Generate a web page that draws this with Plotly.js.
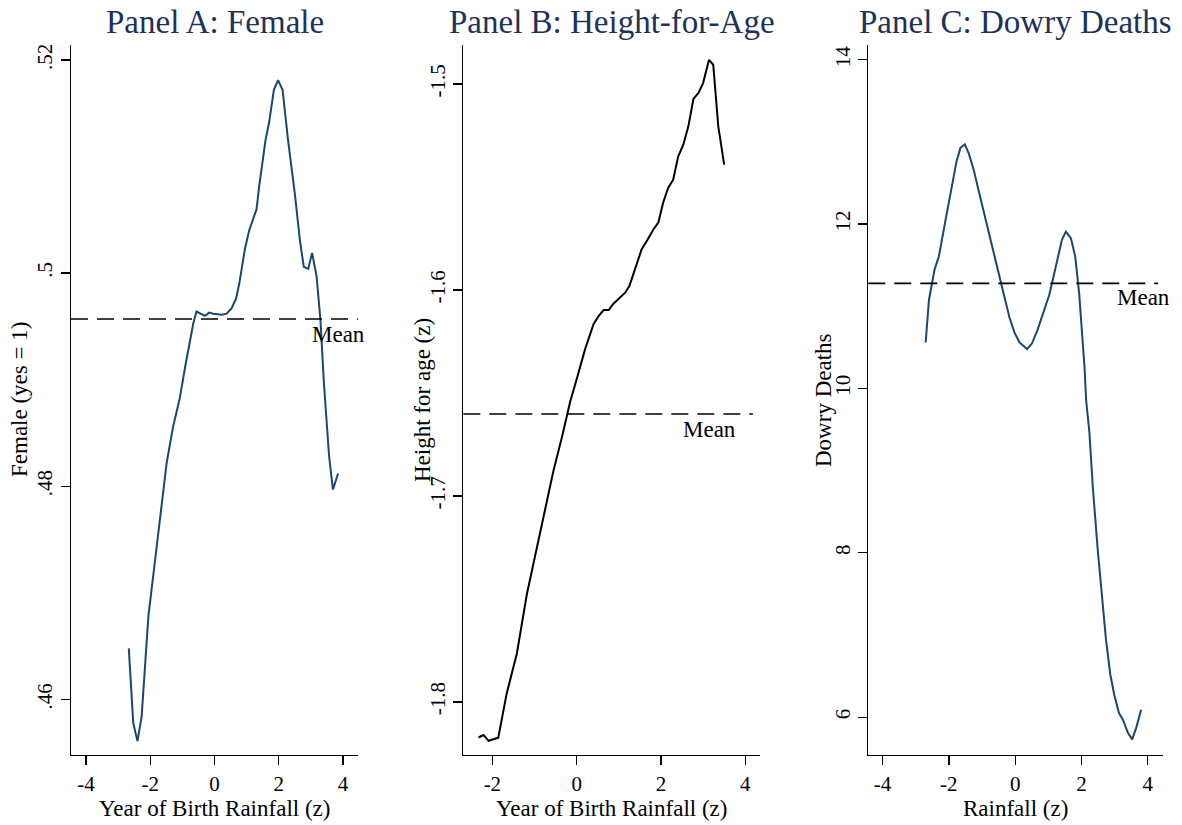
<!DOCTYPE html>
<html>
<head>
<meta charset="utf-8">
<script src="https://cdn.plot.ly/plotly-3.0.1.min.js"></script>
<style>html,body{margin:0;padding:0;background:#fff;}#chart{width:1182px;height:825px;}</style>
</head>
<body>
<div id="chart"></div>
<script>
// Panel A: Female
const femaleX = [-2.67,-2.53,-2.40,-2.27,-2.06,-1.88,-1.70,-1.49,-1.29,-1.08,-0.92,-0.79,-0.66,-0.56,-0.30,-0.16,-0.04,0.22,0.38,0.53,0.67,0.77,0.95,1.08,1.31,1.39,1.59,1.70,1.85,1.98,2.12,2.29,2.50,2.66,2.78,2.92,3.04,3.18,3.30,3.41,3.57,3.69,3.85];
const femaleY = [0.4648,0.4578,0.4561,0.4584,0.4678,0.4725,0.4768,0.4822,0.4856,0.4883,0.4911,0.4932,0.4953,0.4964,0.4960,0.4963,0.4962,0.4961,0.4962,0.4967,0.4976,0.4990,0.5023,0.5040,0.5060,0.5081,0.5125,0.5141,0.5172,0.5181,0.5172,0.5125,0.5075,0.5031,0.5006,0.5004,0.5019,0.4997,0.4956,0.4896,0.4828,0.4797,0.4812];
const femaleMean = 0.4957;
const femaleYTicks = [0.46, 0.48, 0.50, 0.52];
const femaleYTickText = [".46", ".48", ".5", ".52"];

// Panel B: Height-for-Age
const heightX = [-2.33,-2.21,-2.09,-1.86,-1.66,-1.42,-1.18,-0.95,-0.71,-0.55,-0.35,-0.15,0.00,0.20,0.40,0.52,0.64,0.76,0.86,1.03,1.15,1.25,1.39,1.54,1.66,1.82,1.94,2.05,2.17,2.29,2.41,2.53,2.65,2.77,2.89,3.00,3.14,3.24,3.36,3.50];
const heightY = [-1.8173,-1.8161,-1.8189,-1.8174,-1.7959,-1.7766,-1.7475,-1.7257,-1.7023,-1.6877,-1.6715,-1.6539,-1.6433,-1.6287,-1.6166,-1.6126,-1.6097,-1.6097,-1.6069,-1.6037,-1.6013,-1.5981,-1.5892,-1.5803,-1.5763,-1.5706,-1.5671,-1.5577,-1.5504,-1.5464,-1.5351,-1.5294,-1.5205,-1.5072,-1.5043,-1.4995,-1.4882,-1.4906,-1.5205,-1.5391];
const heightMean = -1.6602;
const heightYTicks = [-1.8, -1.7, -1.6, -1.5];
const heightYTickText = ["-1.8", "-1.7", "-1.6", "-1.5"];

// Panel C: Dowry Deaths
const dowryX = [-2.70,-2.60,-2.43,-2.30,-2.10,-1.90,-1.77,-1.65,-1.52,-1.40,-1.25,-1.05,-0.80,-0.55,-0.35,-0.17,-0.02,0.13,0.36,0.51,0.68,0.83,1.03,1.23,1.41,1.53,1.68,1.81,1.93,2.09,2.14,2.24,2.34,2.49,2.62,2.74,2.87,2.99,3.13,3.25,3.40,3.53,3.65,3.80];
const dowryY = [10.56,11.08,11.45,11.61,12.05,12.50,12.76,12.93,12.97,12.86,12.66,12.32,11.89,11.49,11.16,10.86,10.68,10.56,10.48,10.55,10.72,10.90,11.14,11.49,11.81,11.91,11.83,11.61,11.16,10.27,9.86,9.46,8.81,8.04,7.43,6.94,6.52,6.27,6.05,5.97,5.81,5.73,5.87,6.09];
const dowryMean = 11.28;
const dowryYTicks = [6, 8, 10, 12, 14];
const dowryYTickText = ["6", "8", "10", "12", "14"];

const xTicksAC = [-4, -2, 0, 2, 4];
const xTicksB = [-2, 0, 2, 4];
const xTickText = v => v.map(t => String(t));

const panelTitles = ["Panel A: Female", "Panel B: Height-for-Age", "Panel C: Dowry Deaths"];
const xTitles = ["Year of Birth Rainfall (z)", "Year of Birth Rainfall (z)", "Rainfall (z)"];
const yTitles = ["Female (yes = 1)", "Height for age (z)", "Dowry Deaths"];

const W = 1182, H = 825;
const FONT = "Liberation Serif, Times New Roman, serif";
const NAVY = "#1a476f";
const TITLE_COLOR = "#1e3159";

const doms = [[71/W, 358/W], [463.3/W, 760/W], [868.3/W, 1162.7/W]];
const ydom = [1 - 755/H, 1 - 45/H];

const traces = [
  {x: femaleX, y: femaleY, type: "scatter", mode: "lines", line: {color: NAVY, width: 2}, xaxis: "x", yaxis: "y", hoverinfo: "skip"},
  {x: heightX, y: heightY, type: "scatter", mode: "lines", line: {color: "#000000", width: 2}, xaxis: "x2", yaxis: "y2", hoverinfo: "skip"},
  {x: dowryX, y: dowryY, type: "scatter", mode: "lines", line: {color: NAVY, width: 2}, xaxis: "x3", yaxis: "y3", hoverinfo: "skip"}
];

function xax(dom, range, ticks, anchor) {
  return {domain: dom, range: range, anchor: anchor, tickvals: ticks, ticktext: xTickText(ticks),
    showline: true, linecolor: "#000", linewidth: 1.3, ticks: "outside", ticklen: 9, tickwidth: 1.3, tickcolor: "#000",
    showgrid: false, zeroline: false, tickfont: {family: FONT, size: 21, color: "#000"}, fixedrange: true};
}
function yax(range, ticks, text, anchor) {
  return {domain: ydom, range: range, anchor: anchor, tickvals: ticks, ticktext: text, tickangle: -90,
    showline: true, linecolor: "#000", linewidth: 1.3, ticks: "outside", ticklen: 9, tickwidth: 1.3, tickcolor: "#000",
    showgrid: false, zeroline: false, tickfont: {family: FONT, size: 21, color: "#000"}, fixedrange: true};
}

const meanLine = (xref, yref, y, x1) => ({type: "line", xref: xref + " domain", yref: yref, x0: 0, x1: x1, y0: y, y1: y,
  line: {color: "#000", width: 1.7, dash: "17px,9px"}});

const centers = [(71+358)/2/W, (463.3+760)/2/W, (868.3+1162.7)/2/W];
const yTitleX = [19/W, 422/W, 823/W];

const annotations = [];
for (let i = 0; i < 3; i++) {
  annotations.push({text: panelTitles[i], xref: "paper", yref: "paper", x: centers[i], y: 1 - 22/H, xanchor: "center", yanchor: "middle",
    showarrow: false, font: {family: FONT, size: 33, color: TITLE_COLOR}});
  annotations.push({text: xTitles[i], xref: "paper", yref: "paper", x: centers[i], y: 1 - 808/H, xanchor: "center", yanchor: "middle",
    showarrow: false, font: {family: FONT, size: 23, color: "#000"}});
  annotations.push({text: yTitles[i], xref: "paper", yref: "paper", x: yTitleX[i], y: 1 - 400/H, xanchor: "center", yanchor: "middle",
    textangle: -90, showarrow: false, font: {family: FONT, size: 23, color: "#000"}});
}
annotations.push({text: "Mean", xref: "x", yref: "y", x: 3.87, y: femaleMean, xanchor: "center", yanchor: "middle", yshift: -16, showarrow: false, font: {family: FONT, size: 23, color: "#000"}});
annotations.push({text: "Mean", xref: "x2", yref: "y2", x: 3.16, y: heightMean, xanchor: "center", yanchor: "middle", yshift: -15, showarrow: false, font: {family: FONT, size: 23, color: "#000"}});
annotations.push({text: "Mean", xref: "x3", yref: "y3", x: 3.86, y: dowryMean, xanchor: "center", yanchor: "middle", yshift: -14, showarrow: false, font: {family: FONT, size: 23, color: "#000"}});

const layout = {
  width: W, height: H, margin: {l: 0, r: 0, t: 0, b: 0}, showlegend: false,
  paper_bgcolor: "#fff", plot_bgcolor: "#fff",
  xaxis: xax(doms[0], [-4.47, 4.47], xTicksAC, "y"),
  yaxis: yax([0.4548, 0.5214], femaleYTicks, femaleYTickText, "x"),
  xaxis2: xax(doms[1], [-2.69, 4.35], xTicksB, "y2"),
  yaxis2: yax([-1.8258, -1.481], heightYTicks, heightYTickText, "x2"),
  xaxis3: xax(doms[2], [-4.43, 4.45], xTicksAC, "y3"),
  yaxis3: yax([5.54, 14.18], dowryYTicks, dowryYTickText, "x3"),
  shapes: [meanLine("x", "y", femaleMean, 1.0), meanLine("x2", "y2", heightMean, 0.976), meanLine("x3", "y3", dowryMean, 0.984)],
  annotations: annotations
};

Plotly.newPlot("chart", traces, layout, {displayModeBar: false, staticPlot: true});
</script>
</body>
</html>
